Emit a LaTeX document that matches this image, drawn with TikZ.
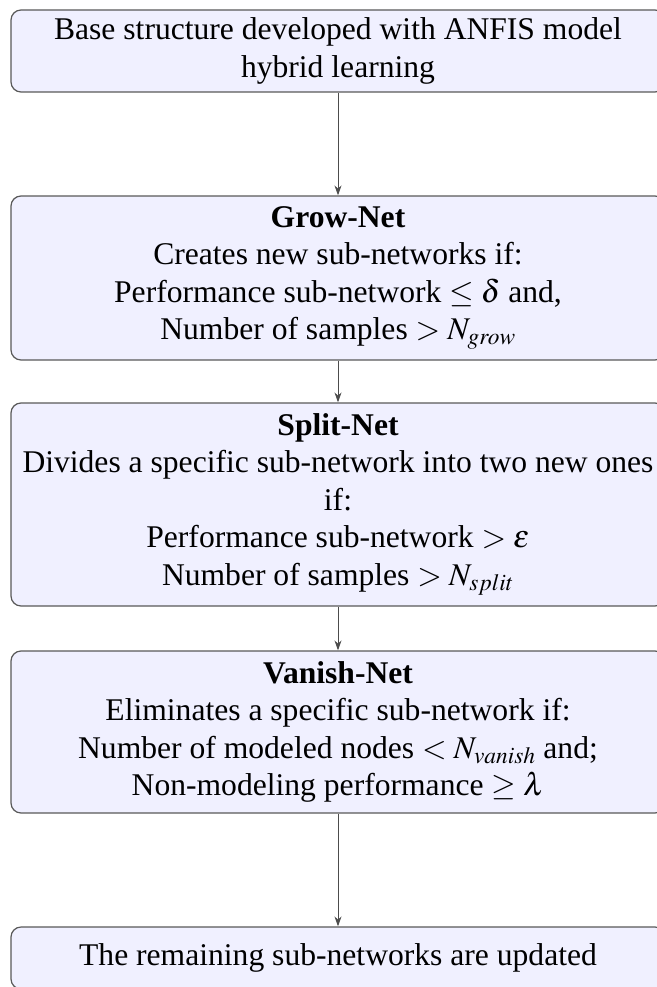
\documentclass[tikz,border=0pt]{standalone}
\usepackage{mathptmx}
\usepackage[no-math]{fontspec}
\setmainfont{Liberation Serif}
\usetikzlibrary{arrows.meta}
\begin{document}
\begin{tikzpicture}[x=1pt,y=-1pt,
  box/.style={draw=black!65, line width=1.2pt, fill=blue!6, rounded corners=10pt,
    minimum width=654pt, inner sep=0pt, align=center,
    font=\fontsize{31.6}{37.5}\selectfont},
  flow/.style={draw=black!70, line width=1pt, -{Stealth[length=10pt,width=7pt]}}]
\useasboundingbox (0,0) rectangle (656,987);

\node[box, minimum height=82pt] (b1) at (338,51)
  {Base structure developed with ANFIS model\\hybrid learning};
\node[box, minimum height=164pt] (b2) at (338,278)
  {\textbf{Grow-Net}\\Creates new sub-networks if:\\Performance sub-network $\leq\delta$ and,\\Number of samples $>N_{grow}$};
\node[box, minimum height=203pt] (b3) at (338,504.5)
  {\textbf{Split-Net}\\Divides a specific sub-network into two new ones\\if:\\Performance sub-network $>\varepsilon$\\Number of samples $>N_{split}$};
\node[box, minimum height=162pt] (b4) at (338,732)
  {\textbf{Vanish-Net}\\Eliminates a specific sub-network if:\\Number of modeled nodes $<N_{vanish}$ and;\\Non-modeling performance $\geq\lambda$};
\node[box, minimum height=62pt] (b5) at (338,958)
  {The remaining sub-networks are updated};

\draw[flow] (b1) -- (b2);
\draw[flow] (b2) -- (b3);
\draw[flow] (b3) -- (b4);
\draw[flow] (b4) -- (b5);
\end{tikzpicture}
\end{document}
